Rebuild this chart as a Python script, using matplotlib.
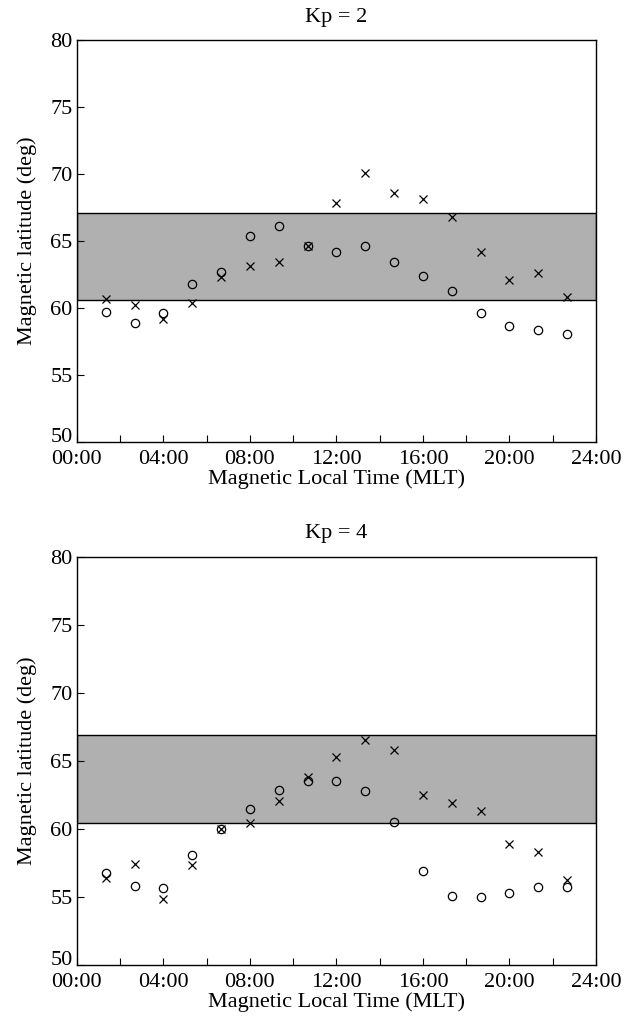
import numpy as np
import matplotlib.pyplot as plt
import matplotlib.transforms as mtransforms
from matplotlib.ticker import MultipleLocator, FuncFormatter

plt.rcParams['font.family'] = ['Liberation Serif', 'DejaVu Serif']

# MLT bin centres (hours)
mlt = [1.33, 2.67, 4.0, 5.33, 6.67, 8.0, 9.33, 10.67, 12.0,
       13.33, 14.67, 16.0, 17.33, 18.67, 20.0, 21.33, 22.67]

# Kp = 2
kp2_circle = [59.7, 58.9, 59.65, 61.8, 62.7, 65.4, 66.15, 64.65, 64.15,
              64.6, 63.45, 62.35, 61.3, 59.65, 58.65, 58.35, 58.05]
kp2_cross = [60.7, 60.2, 59.2, 60.35, 62.3, 63.1, 63.4, 64.65, 67.8,
             70.1, 68.6, 68.1, 66.8, 64.2, 62.1, 62.6, 60.85]
kp2_band = (60.6, 67.1)

# Kp = 4
kp4_circle = [56.75, 55.8, 55.6, 58.05, 59.95, 61.45, 62.85, 63.5, 63.5,
              62.75, 60.5, 56.9, 55.05, 54.95, 55.3, 55.7, 55.7]
kp4_cross = [56.4, 57.4, 54.85, 57.3, 59.95, 60.45, 62.05, 63.8, 65.3,
             66.5, 65.8, 62.5, 61.9, 61.3, 58.9, 58.25, 56.2]
kp4_band = (60.45, 66.9)

lat_ticks = [50, 55, 60, 65, 70, 75, 80]

panels = [
    ('Kp = 2', kp2_circle, kp2_cross, kp2_band, [0.122, 0.568, 0.824, 0.393]),
    ('Kp = 4', kp4_circle, kp4_cross, kp4_band, [0.122, 0.057, 0.824, 0.399]),
]

fig = plt.figure(figsize=(6.3, 10.23), dpi=100)

def hhmm(v, pos):
    return '%02d:00' % int(round(v))

for title, circ, cross, band, rect in panels:
    ax = fig.add_axes(rect)
    ax.axhspan(band[0], band[1], facecolor='#b0b0b0', edgecolor='black',
               linewidth=1.0, zorder=0)
    ax.plot(mlt, circ, linestyle='none', marker='o', markersize=6,
            markerfacecolor='none', markeredgecolor='black',
            markeredgewidth=0.9)
    ax.plot(mlt, cross, linestyle='none', marker='x', markersize=6,
            color='black', markeredgewidth=0.9)
    ax.set_xlim(0, 24)
    ax.set_ylim(50, 80)
    ax.xaxis.set_major_locator(MultipleLocator(4))
    ax.xaxis.set_minor_locator(MultipleLocator(2))
    ax.xaxis.set_major_formatter(FuncFormatter(hhmm))
    ax.set_yticks(lat_ticks)
    ax.tick_params(direction='in', labelsize=16, length=5, width=0.8,
                   top=False, right=False, pad=3)
    ax.tick_params(which='minor', direction='in', length=5, width=0.8,
                   top=False, right=False)
    ax.tick_params(axis='x', pad=6)
    for s in ax.spines.values():
        s.set_linewidth(1.0)
    ax.set_title(title, fontsize=16, pad=13)
    ax.set_xlabel('Magnetic Local Time (MLT)', fontsize=16, labelpad=0)
    ax.set_ylabel('Magnetic latitude (deg)', fontsize=16, labelpad=10)

    # lift the bottom "50" label a little, as in the original
    lab = ax.yaxis.get_major_ticks()[0].label1
    lab.set_transform(lab.get_transform() +
                      mtransforms.ScaledTranslation(0, 5 / 72, fig.dpi_scale_trans))

fig.savefig('out.png', dpi=100)
